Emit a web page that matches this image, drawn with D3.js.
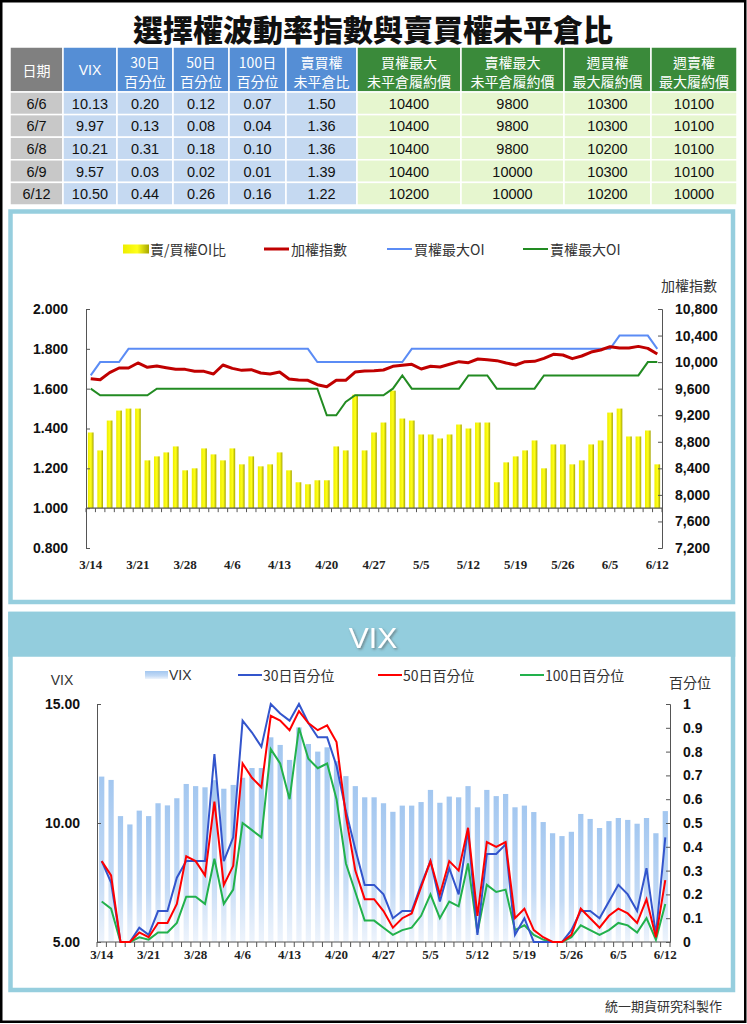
<!DOCTYPE html>
<html><head><meta charset="utf-8">
<script src="https://cdn.jsdelivr.net/npm/d3@7/dist/d3.min.js"></script>
<style>html,body{margin:0;padding:0;background:#fff;}svg{display:block}</style>
</head><body>
<svg id="chart" width="747" height="1024"></svg>
<script>
// ---------------- DATA ----------------
const dates=["3/14","3/15","3/16","3/17","3/20","3/21","3/22","3/23","3/24","3/27","3/28","3/29","3/30","3/31","4/5","4/6","4/7","4/10","4/11","4/12","4/13","4/14","4/17","4/18","4/19","4/20","4/21","4/24","4/25","4/26","4/27","4/28","5/2","5/3","5/4","5/5","5/8","5/9","5/10","5/11","5/12","5/15","5/16","5/17","5/18","5/19","5/22","5/23","5/24","5/25","5/26","5/31","6/1","6/2","6/3","6/5","6/6","6/7","6/8","6/9","6/12"];
const xLabelDates=["3/14","3/21","3/28","4/6","4/13","4/20","4/27","5/5","5/12","5/19","5/26","6/5","6/12"];
const pcRatio=[1.38,1.29,1.44,1.49,1.50,1.50,1.24,1.26,1.28,1.31,1.19,1.20,1.30,1.27,1.24,1.30,1.22,1.26,1.21,1.22,1.28,1.19,1.13,1.12,1.14,1.14,1.31,1.29,1.57,1.29,1.38,1.43,1.59,1.45,1.44,1.37,1.37,1.35,1.37,1.42,1.40,1.43,1.43,1.13,1.23,1.26,1.29,1.34,1.20,1.32,1.32,1.22,1.24,1.32,1.34,1.48,1.50,1.36,1.36,1.39,1.22];
const taiex=[9750,9735,9841,9911,9911,9987,9922,9942,9916,9891,9891,9861,9861,9821,9957,9906,9876,9886,9836,9821,9851,9746,9731,9726,9660,9630,9726,9726,9851,9866,9871,9881,9937,9952,9967,9896,9937,9927,9967,10007,9992,10047,10037,10022,9987,9957,10007,10012,10057,10117,10107,10052,10092,10152,10182,10232,10212,10212,10237,10207,10122];
const callMaxOI=[9800,10000,10000,10000,10200,10200,10200,10200,10200,10200,10200,10200,10200,10200,10200,10200,10200,10200,10200,10200,10200,10200,10200,10200,10000,10000,10000,10000,10000,10000,10000,10000,10000,10000,10200,10200,10200,10200,10200,10200,10200,10200,10200,10200,10200,10200,10200,10200,10200,10200,10200,10200,10200,10200,10200,10200,10400,10400,10400,10400,10200];
const putMaxOI=[9600,9500,9500,9500,9500,9500,9500,9600,9600,9600,9600,9600,9600,9600,9600,9600,9600,9600,9600,9600,9600,9600,9600,9600,9600,9200,9200,9400,9500,9500,9500,9500,9600,9800,9600,9600,9600,9600,9600,9600,9800,9800,9800,9600,9600,9600,9600,9600,9800,9800,9800,9800,9800,9800,9800,9800,9800,9800,9800,10000,10000];
const vix=[11.95,11.81,10.29,9.94,10.52,10.29,10.83,10.74,11.04,11.64,11.55,11.50,11.80,11.44,11.60,11.90,12.31,12.31,13.60,13.28,12.65,14.02,13.32,13.00,13.18,12.60,11.97,11.55,11.08,11.08,10.83,10.47,10.73,10.73,10.88,11.39,10.85,11.11,11.08,11.55,10.66,11.39,11.13,11.22,10.66,10.73,10.46,10.04,9.57,9.45,9.63,10.38,10.17,9.79,10.08,10.21,10.13,9.97,10.21,9.57,10.50];
const pct30=[0.34,0.25,0,0,0.06,0.03,0.13,0.13,0.27,0.34,0.34,0.34,0.79,0.34,0.44,0.93,0.88,0.82,1.00,0.96,0.93,1.00,0.92,0.86,0.86,0.74,0.55,0.39,0.24,0.24,0.20,0.10,0.13,0.13,0.24,0.34,0.17,0.31,0.20,0.47,0.03,0.37,0.37,0.41,0.03,0.10,0,0,0,0,0.05,0.13,0.13,0.10,0.17,0.24,0.20,0.13,0.31,0.03,0.44];
const pct50=[0.34,0.28,0,0,0.04,0.02,0.08,0.08,0.16,0.36,0.34,0.28,0.59,0.24,0.32,0.75,0.69,0.65,0.95,0.93,0.89,0.97,0.92,0.89,0.91,0.84,0.53,0.30,0.18,0.18,0.13,0.06,0.10,0.12,0.23,0.34,0.20,0.34,0.30,0.48,0.11,0.42,0.40,0.42,0.10,0.14,0.05,0.02,0,0,0.03,0.14,0.10,0.06,0.11,0.14,0.12,0.08,0.18,0.02,0.26];
const pct100=[0.17,0.14,0,0,0.02,0.01,0.04,0.04,0.08,0.19,0.19,0.16,0.35,0.16,0.22,0.50,0.47,0.44,0.81,0.75,0.60,0.90,0.77,0.73,0.75,0.60,0.33,0.21,0.09,0.09,0.06,0.03,0.05,0.06,0.11,0.20,0.10,0.17,0.15,0.33,0.04,0.24,0.21,0.22,0.05,0.07,0.03,0.01,0,0,0.02,0.07,0.05,0.03,0.05,0.08,0.07,0.04,0.10,0.01,0.16];
const leftTicksTop=[0.8,1.0,1.2,1.4,1.6,1.8,2.0];
const rightTicksTop=[7200,7600,8000,8400,8800,9200,9600,10000,10400,10800];
const leftTicksBot=[5,10,15];
const rightTicksBot=[0,0.1,0.2,0.3,0.4,0.5,0.6,0.7,0.8,0.9,1];
const tableHeaders=[["日期"],["VIX"],["30日","百分位"],["50日","百分位"],["100日","百分位"],["賣買權","未平倉比"],["買權最大","未平倉履約價"],["賣權最大","未平倉履約價"],["週買權","最大履約價"],["週賣權","最大履約價"]];
const tableRows=[
 ["6/6","10.13","0.20","0.12","0.07","1.50","10400","9800","10300","10100"],
 ["6/7","9.97","0.13","0.08","0.04","1.36","10400","9800","10300","10100"],
 ["6/8","10.21","0.31","0.18","0.10","1.36","10400","9800","10200","10100"],
 ["6/9","9.57","0.03","0.02","0.01","1.39","10400","10000","10300","10100"],
 ["6/12","10.50","0.44","0.26","0.16","1.22","10200","10000","10200","10000"]];

// ---------------- DRAW ----------------
const svg=d3.select("#chart");
const CJK="'Noto Sans CJK TC','Noto Sans CJK SC','Noto Sans',sans-serif";
const SANS="'Liberation Sans',Arial,Helvetica,sans-serif";
const SERIF="'Liberation Serif','Times New Roman',serif";
const defs=svg.append("defs");
const gy=defs.append("linearGradient").attr("id","gYel").attr("x1",0).attr("x2",1).attr("y1",0).attr("y2",0);
gy.append("stop").attr("offset","0").attr("stop-color","#EDED00");
gy.append("stop").attr("offset","0.55").attr("stop-color","#FFFF1A");
gy.append("stop").attr("offset","1").attr("stop-color","#A6A600");
const gb=defs.append("linearGradient").attr("id","gBlu").attr("x1",0).attr("x2",0).attr("y1",0).attr("y2",1);
gb.append("stop").attr("offset","0").attr("stop-color","#A3C7F0");
gb.append("stop").attr("offset","0.6").attr("stop-color","#C3DAF5");
gb.append("stop").attr("offset","1").attr("stop-color","#EEF4FC");
const sh=defs.append("filter").attr("id","shadow").attr("x","-20%").attr("y","-20%").attr("width","140%").attr("height","140%");
sh.append("feDropShadow").attr("dx",1.5).attr("dy",1.5).attr("stdDeviation",1).attr("flood-color","#555").attr("flood-opacity",0.6);

svg.append("rect").attr("width",747).attr("height",1024).attr("fill","#fff");
svg.append("rect").attr("x",1.25).attr("y",1.25).attr("width",744).attr("height",1020.5).attr("fill","none").attr("stroke","#000").attr("stroke-width",2.5);

// title
svg.append("text").attr("x",373).attr("y",28).attr("text-anchor","middle").attr("dominant-baseline","central")
 .attr("font-family",CJK).attr("font-weight",900).attr("font-size",30).attr("fill","#111").text("選擇權波動率指數與賣買權未平倉比");

// table
const colEdges=[10,63,117,173,229,286,357,461,564,651,737];
const headTop=47, headBot=92, rowH=22.6;
const headFill=i=>i===0?"#808080":(i<=5?"#558ED5":"#3A8A3A");
const bodyFill=i=>i===0?"#C8C8C8":(i<=5?"#C5D9F1":"#E6F6CF");
const tbl=svg.append("g");
tableHeaders.forEach((lines,i)=>{
  const x0=colEdges[i], w=colEdges[i+1]-colEdges[i];
  tbl.append("rect").attr("x",x0).attr("y",headTop).attr("width",w).attr("height",headBot-headTop)
    .attr("fill",headFill(i)).attr("stroke","#fff").attr("stroke-width",1.5);
  const ys=lines.length===1?[69.5]:[61.5,80.5];
  lines.forEach((t,k)=>tbl.append("text").attr("x",x0+w/2).attr("y",ys[k]).attr("text-anchor","middle")
    .attr("dominant-baseline","central").attr("font-family",t==="VIX"?SANS:CJK).attr("font-size",14).attr("fill","#fff").text(t));
});
tableRows.forEach((row,r)=>{
  const y0=headBot+r*rowH;
  row.forEach((t,i)=>{
    const x0=colEdges[i], w=colEdges[i+1]-colEdges[i];
    tbl.append("rect").attr("x",x0).attr("y",y0).attr("width",w).attr("height",rowH)
      .attr("fill",bodyFill(i)).attr("stroke","#fff").attr("stroke-width",1.5);
    tbl.append("text").attr("x",x0+w/2).attr("y",y0+rowH/2+0.5).attr("text-anchor","middle").attr("dominant-baseline","central")
      .attr("font-family",SANS).attr("font-size",14.5).attr("fill","#111").text(t);
  });
});

// ---------- top panel ----------
const panelColor="#96CEDE";
svg.append("rect").attr("x",10.5).attr("y",211.5).attr("width",722.5).attr("height",390.5).attr("fill","#fff").attr("stroke",panelColor).attr("stroke-width",4.5);

const xT=d3.scaleBand().domain(dates).range([86,662]);
const yL=d3.scaleLinear().domain([0.8,2.0]).range([548,309]);
const yR=d3.scaleLinear().domain([7200,10800]).range([548,309]);
const topG=svg.append("g");
// bars
topG.selectAll("rect.bar").data(dates).join("rect").attr("class","bar")
  .attr("x",d=>xT(d)+xT.bandwidth()*0.2).attr("width",xT.bandwidth()*0.6)
  .attr("y",(d,i)=>yL(pcRatio[i])).attr("height",(d,i)=>yL(1)-yL(pcRatio[i]))
  .attr("fill","url(#gYel)");
// x axis at 1.0
const xAx=topG.append("g").attr("transform",`translate(0,${yL(1)})`);
xAx.append("line").attr("x1",86).attr("x2",662).attr("stroke","#555").attr("stroke-width",1.2);
xAx.selectAll("line.tk").data(dates.concat(["__end"])).join("line").attr("class","tk")
  .attr("x1",d=>d==="__end"?662:xT(d)).attr("x2",d=>d==="__end"?662:xT(d)).attr("y1",0).attr("y2",4).attr("stroke","#555");
const xLab=topG.append("g").attr("transform","translate(0,558)")
  .call(d3.axisBottom(xT).tickValues(xLabelDates).tickSize(0).tickPadding(2));
xLab.select(".domain").remove();
xLab.selectAll("text").attr("font-family",SERIF).attr("font-weight",700).attr("font-size",13).attr("fill","#222");
// left axis
const lAx=topG.append("g").attr("transform","translate(86,0)")
  .call(d3.axisLeft(yL).tickValues(leftTicksTop).tickFormat(d3.format(".3f")).tickSizeInner(-4).tickSizeOuter(-4).tickPadding(18));
lAx.select(".domain").attr("stroke","#555");
lAx.selectAll("line").attr("stroke","#555");
lAx.selectAll("text").attr("font-family",SANS).attr("font-weight",700).attr("font-size",14).attr("fill","#111");
// right axis
const rAx=topG.append("g").attr("transform","translate(662,0)")
  .call(d3.axisRight(yR).tickValues(rightTicksTop).tickFormat(d3.format(",")).tickSizeInner(-4).tickSizeOuter(-4).tickPadding(13));
rAx.select(".domain").attr("stroke","#555");
rAx.selectAll("line").attr("stroke","#555");
rAx.selectAll("text").attr("font-family",SANS).attr("font-weight",700).attr("font-size",14).attr("fill","#111");
topG.append("text").attr("x",689).attr("y",285).attr("text-anchor","middle").attr("dominant-baseline","central")
  .attr("font-family",CJK).attr("font-size",14).attr("fill","#333").text("加權指數");
// lines
const cx=d=>xT(d)+xT.bandwidth()/2;
const lineR=arr=>d3.line().x((d,i)=>cx(dates[i])).y(d=>yR(d))(arr);
topG.append("path").attr("d",lineR(callMaxOI)).attr("fill","none").attr("stroke","#5B8CF5").attr("stroke-width",2);
topG.append("path").attr("d",lineR(putMaxOI)).attr("fill","none").attr("stroke","#228B22").attr("stroke-width",2);
topG.append("path").attr("d",lineR(taiex)).attr("fill","none").attr("stroke","#C00000").attr("stroke-width",3).attr("stroke-linejoin","round");
// legend
const lg=topG.append("g").attr("font-family",CJK).attr("font-size",14).attr("fill","#333");
lg.append("rect").attr("x",123).attr("y",244.5).attr("width",26).attr("height",9).attr("fill","url(#gYel)");
lg.append("text").attr("x",150).attr("y",249).attr("dominant-baseline","central").text("賣/買權OI比");
[[264,"#C00000",3,"加權指數"],[387,"#5B8CF5",2,"買權最大OI"],[523,"#228B22",2,"賣權最大OI"]].forEach(([x,c,w,t])=>{
  lg.append("line").attr("x1",x).attr("x2",x+25).attr("y1",249).attr("y2",249).attr("stroke",c).attr("stroke-width",w);
  lg.append("text").attr("x",x+27).attr("y",249).attr("dominant-baseline","central").text(t);
});

// ---------- bottom panel ----------
svg.append("rect").attr("x",10.5).attr("y",614).attr("width",722.5).attr("height",376).attr("fill","#fff").attr("stroke",panelColor).attr("stroke-width",4.5);
svg.append("rect").attr("x",8.25).attr("y",611.75).attr("width",727).attr("height",45).attr("fill","#93CDDD");
svg.append("text").attr("x",373).attr("y",637).attr("text-anchor","middle").attr("dominant-baseline","central")
  .attr("font-family",SANS).attr("font-size",30).attr("fill","#fff").attr("filter","url(#shadow)").text("VIX");

const xB=d3.scaleBand().domain(dates).range([97,670]);
const yV=d3.scaleLinear().domain([5,15]).range([942,704]);
const yP=d3.scaleLinear().domain([0,1]).range([942,704]);
const bot=svg.append("g");
bot.selectAll("rect.vb").data(dates).join("rect").attr("class","vb")
  .attr("x",d=>xB(d)+xB.bandwidth()*0.22).attr("width",xB.bandwidth()*0.56)
  .attr("y",(d,i)=>yV(vix[i])).attr("height",(d,i)=>yV(5)-yV(vix[i])).attr("fill","url(#gBlu)");
// axes
const bx=bot.append("g").attr("transform",`translate(0,${yV(5)})`);
bx.append("line").attr("x1",97).attr("x2",670).attr("stroke","#555").attr("stroke-width",1.2);
bx.selectAll("line.tk").data(dates.concat(["__end"])).join("line").attr("class","tk")
  .attr("x1",d=>d==="__end"?670:xB(d)).attr("x2",d=>d==="__end"?670:xB(d)).attr("y1",0).attr("y2",5).attr("stroke","#555");
const bLab=bot.append("g").attr("transform","translate(0,948)")
  .call(d3.axisBottom(xB).tickValues(xLabelDates).tickSize(0).tickPadding(2));
bLab.select(".domain").remove();
bLab.selectAll("text").attr("font-family",SERIF).attr("font-weight",700).attr("font-size",13).attr("fill","#222");
const blAx=bot.append("g").attr("transform","translate(97,0)")
  .call(d3.axisLeft(yV).tickValues(leftTicksBot).tickFormat(d3.format(".2f")).tickSizeInner(-4).tickSizeOuter(-4).tickPadding(17));
blAx.select(".domain").attr("stroke","#555");
blAx.selectAll("line").attr("stroke","#555");
blAx.selectAll("text").attr("font-family",SANS).attr("font-weight",700).attr("font-size",14).attr("fill","#111");
const brAx=bot.append("g").attr("transform","translate(670,0)")
  .call(d3.axisRight(yP).tickValues(rightTicksBot).tickFormat(d3.format("~g")).tickSizeInner(-4).tickSizeOuter(-4).tickPadding(13));
brAx.select(".domain").attr("stroke","#555");
brAx.selectAll("line").attr("stroke","#555");
brAx.selectAll("text").attr("font-family",SANS).attr("font-weight",700).attr("font-size",14).attr("fill","#111");
bot.append("text").attr("x",62).attr("y",680).attr("text-anchor","middle").attr("dominant-baseline","central")
  .attr("font-family",SANS).attr("font-size",14).attr("fill","#333").text("VIX");
bot.append("text").attr("x",690).attr("y",682).attr("text-anchor","middle").attr("dominant-baseline","central")
  .attr("font-family",CJK).attr("font-size",14).attr("fill","#333").text("百分位");
// lines
const bcx=d=>xB(d)+xB.bandwidth()/2;
const lineP=arr=>d3.line().x((d,i)=>bcx(dates[i])).y(d=>yP(d))(arr);
bot.append("path").attr("d",lineP(pct100)).attr("fill","none").attr("stroke","#22B14C").attr("stroke-width",2);
bot.append("path").attr("d",lineP(pct30)).attr("fill","none").attr("stroke","#3355CC").attr("stroke-width",2);
bot.append("path").attr("d",lineP(pct50)).attr("fill","none").attr("stroke","#FF0000").attr("stroke-width",2);
// legend
const bl=bot.append("g").attr("font-family",CJK).attr("font-size",14).attr("fill","#333");
bl.append("rect").attr("x",145).attr("y",671).attr("width",23).attr("height",8).attr("fill","url(#gBlu)");
bl.append("text").attr("x",169).attr("y",675).attr("dominant-baseline","central").attr("font-family",SANS).text("VIX");
[[238,"#3355CC","30日百分位"],[378,"#FF0000","50日百分位"],[520,"#22B14C","100日百分位"]].forEach(([x,c,t])=>{
  bl.append("line").attr("x1",x).attr("x2",x+24).attr("y1",675).attr("y2",675).attr("stroke",c).attr("stroke-width",2);
  bl.append("text").attr("x",x+25).attr("y",675).attr("dominant-baseline","central").text(t);
});

// footer
svg.append("text").attr("x",722).attr("y",1005).attr("text-anchor","end").attr("dominant-baseline","central")
  .attr("font-family",CJK).attr("font-size",13).attr("fill","#333").text("統一期貨研究科製作");
</script>
</body></html>
